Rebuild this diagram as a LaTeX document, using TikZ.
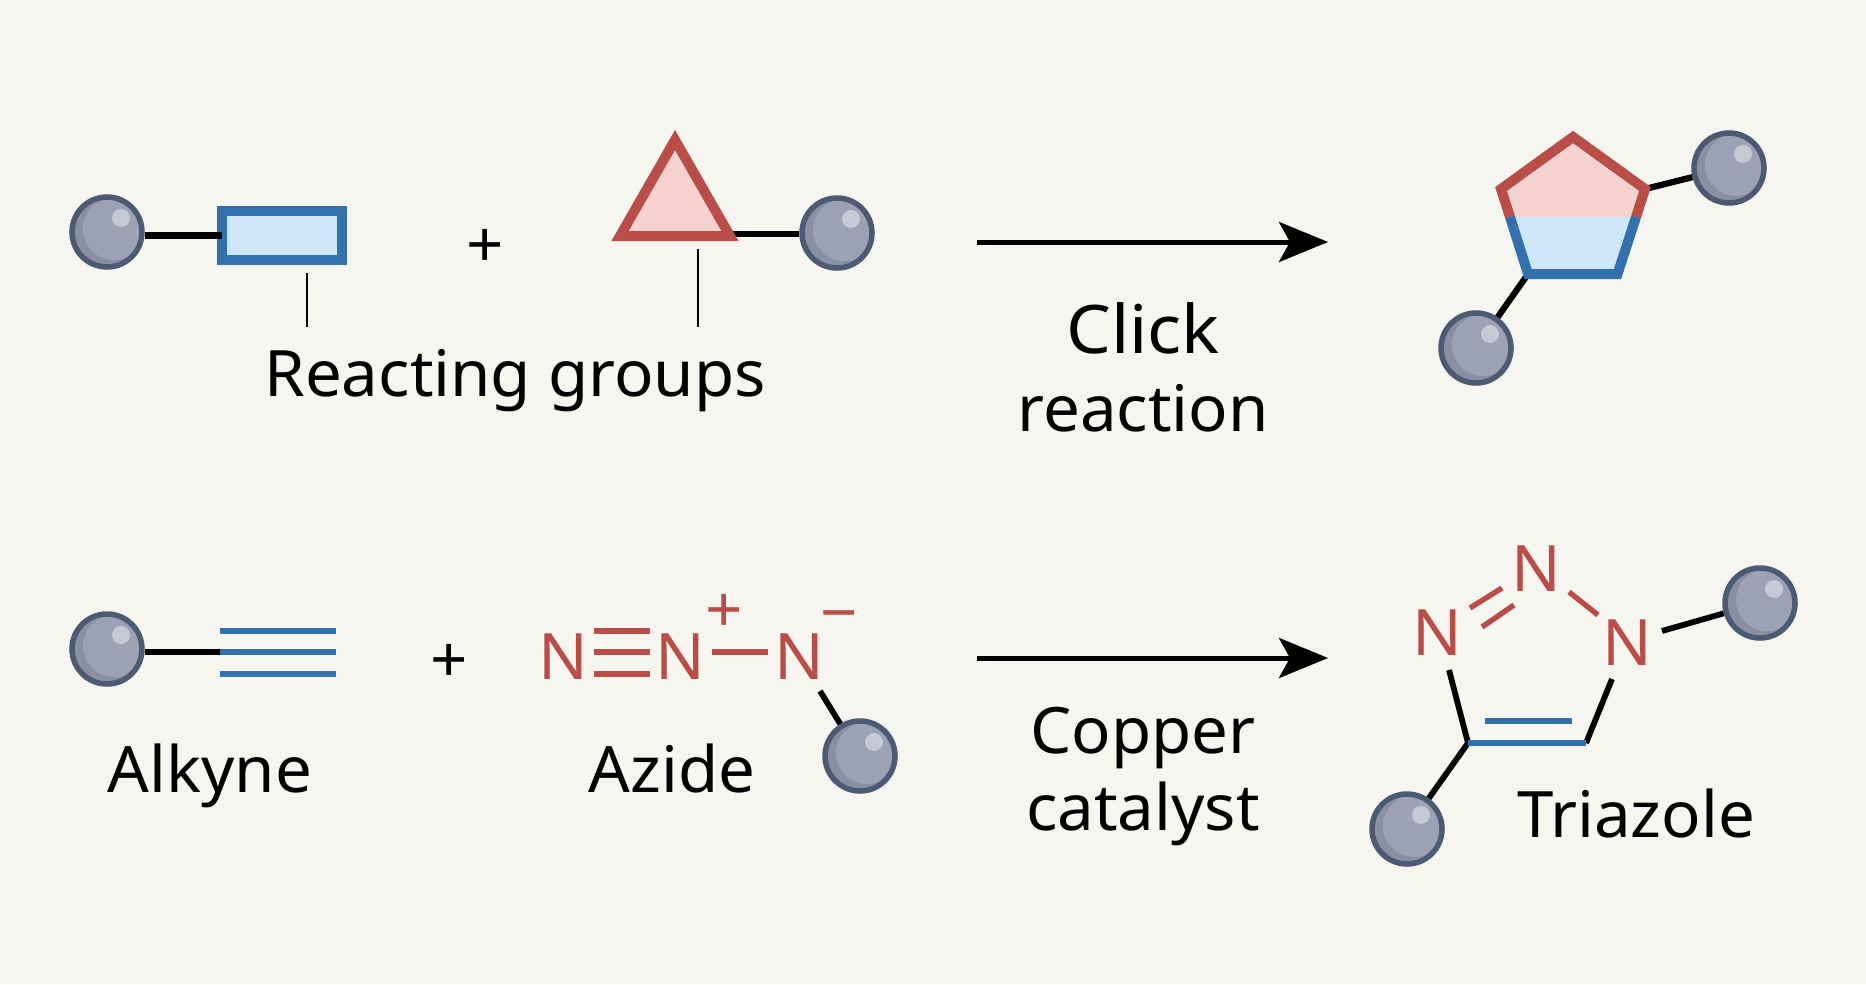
\documentclass[tikz,border=0pt]{standalone}
\usepackage{fontspec}
\setmainfont[FakeStretch=1.022]{Noto Sans}
\usetikzlibrary{arrows.meta,calc}
\definecolor{paper}{HTML}{F7F5F0}
\definecolor{bluedk}{HTML}{3271AD}
\definecolor{bluelt}{HTML}{CFE6F9}
\definecolor{reddk}{HTML}{B94D48}
\definecolor{redlt}{HTML}{F5D2D0}
\definecolor{ballEdge}{HTML}{4C5A73}
\definecolor{ballDark}{HTML}{8A90A3}
\definecolor{ballLight}{HTML}{9CA2B4}
\definecolor{ballShine}{HTML}{C6CAD5}
\tikzset{
  ball/.style={circle,draw=ballEdge,line width=2.75pt,minimum size=35pt,inner sep=0pt,fill=ballDark,
    path picture={
      \fill[ballLight] ($(path picture bounding box.center)+(7,-3)$) circle (31);
      \fill[ballShine] ($(path picture bounding box.center)+(14,-14)$) circle (9);
    }},
  bond/.style={draw=black,line width=2.9pt},
  bondthick/.style={draw=black,line width=3.1pt},
  thinline/.style={draw=black,line width=0.7pt},
  blueline/.style={draw=bluedk,line width=3.1pt},
  redline/.style={draw=reddk,line width=2.7pt},
  redbar/.style={draw=reddk,line width=3.1pt},
  label/.style={anchor=base,inner sep=0pt,font=\fontsize{32}{32}\selectfont,text=black},
  atom/.style={anchor=base,inner sep=0pt,font=\fontsize{32}{32}\selectfont,text=reddk},
  chargetext/.style={anchor=center,inner sep=0pt,font=\fontsize{32}{32}\selectfont,text=reddk},
  plustext/.style={anchor=center,inner sep=0pt,font=\fontsize{32}{32}\selectfont,text=black},
  rarrow/.style={draw=black,line width=2.5pt,-{Stealth[length=24.5pt,width=20pt,inset=5.5pt]}},
  grpline/.style={line width=5pt,line join=miter,miter limit=10},
}
\begin{document}
\begin{tikzpicture}[x=0.5pt,y=-0.5pt]
\fill[paper] (0,0) rectangle (1866,984);
\useasboundingbox (0,0) rectangle (1866,984);

% top row, left reagent
\node[ball] (b1) at (107,232) {};
\node[draw=bluedk,fill=bluelt,line width=5pt,minimum width=60pt,minimum height=24.5pt,inner sep=0pt,outer sep=0pt] (rbox) at (282,235.5) {};
\draw[bondthick] ($(b1.east)+(0,3.5)$) -- (rbox.west);

% top row, right reagent
\node[ball] (b2) at (837,233) {};
\coordinate (t1) at (675,140);
\coordinate (t2) at (620,236);
\coordinate (t3) at (730,236);
\coordinate (t3b) at (730,234);
\draw[bondthick] (t3b) -- ($(b2.west)+(0,1)$);
\draw[draw=reddk,fill=redlt,grpline] (t1) -- (t2) -- (t3) -- cycle;

\node[plustext] (plus1) at (485.5,248.5) {+};

% reacting groups label
\node[label] (rg) at (515,396) {Reacting groups};
\coordinate (l1a) at (307,273); \coordinate (l1b) at (307,327);
\coordinate (l2a) at (698,249); \coordinate (l2b) at (698,327);
\draw[thinline] (l1a) -- (l1b);
\draw[thinline] (l2a) -- (l2b);

% top arrow
\coordinate (a1) at (977,242); \coordinate (a2) at (1328,242);
\draw[rarrow] (a1) -- (a2);
\node[label,font=\fontsize{33.5}{33.5}\selectfont\addfontfeature{FakeStretch=1.06}] (click) at (1143,353) {Click};
\node[label] (react) at (1143,431) {reaction};

% product pentagon
\node[ball] (b3) at (1729,168) {};
\node[ball] (b4) at (1476,348) {};
\coordinate (p1) at (1573,137);
\coordinate (p2) at (1645,189);
\coordinate (p3) at (1617.5,274);
\coordinate (p4) at (1528,274);
\coordinate (p5) at (1501,189);
\coordinate (s1) at (1510,217);
\coordinate (s2) at (1636,217);
\draw[bondthick] (p2) -- (b3);
\draw[bondthick] (p4) -- (b4);
\fill[redlt] (s1) -- (p5) -- (p1) -- (p2) -- (s2) -- cycle;
\fill[bluelt] (s1) -- (p4) -- (p3) -- (s2) -- cycle;
\draw[reddk,grpline] (s1) -- (p5) -- (p1) -- (p2) -- (s2);
\draw[bluedk,grpline] (s1) -- (p4) -- (p3) -- (s2);

% bottom row, alkyne
\node[ball] (b5) at (107,649) {};
\coordinate (y1) at (220,652); \coordinate (y2) at (336,652);
\coordinate (y3) at (220,631); \coordinate (y4) at (336,631);
\coordinate (y5) at (220,674); \coordinate (y6) at (336,674);
\draw[bondthick] ($(b5.east)+(0,3)$) -- (y1);
\draw[blueline] (y1) -- (y2);
\draw[blueline] (y3) -- (y4);
\draw[blueline] (y5) -- (y6);
\node[plustext] (plus2) at (449.5,663) {+};
\node[label] (alk) at (210,792) {Alkyne};

% azide
\node[atom] (n1) at (563.5,679) {N};
\node[atom] (n2) at (680.5,679) {N};
\node[atom] (n3) at (799,679) {N};
\coordinate (z1) at (594,631); \coordinate (z2) at (650,631);
\coordinate (z3) at (594,652); \coordinate (z4) at (650,652);
\coordinate (z5) at (594,674); \coordinate (z6) at (650,674);
\coordinate (z7) at (712,652); \coordinate (z8) at (768,652);
\draw[redbar] (z1) -- (z2);
\draw[redbar] (z3) -- (z4);
\draw[redbar] (z5) -- (z6);
\draw[redbar] (z7) -- (z8);
\node[chargetext] (cp) at (724.5,613) {+};
\node[chargetext] (cm) at (839,623) {−};
\node[ball] (b6) at (860,756) {};
\coordinate (z9) at (820,691);
\draw[bond] (z9) -- (b6);
\node[label] (azi) at (672,792) {Azide};

% bottom arrow
\coordinate (a3) at (977,658); \coordinate (a4) at (1328,658);
\draw[rarrow] (a3) -- (a4);
\node[label] (copper) at (1143,753) {Copper};
\node[label] (cata) at (1143,830) {catalyst};

% triazole
\node[atom] (m1) at (1437.5,655) {N};
\node[atom] (m2) at (1536.5,591) {N};
\node[atom] (m3) at (1627.5,665) {N};
\node[ball] (b7) at (1760,603) {};
\node[ball] (b8) at (1407,829) {};
\coordinate (d1) at (1470,608); \coordinate (d2) at (1502,588);
\coordinate (d3) at (1482,627); \coordinate (d4) at (1514,605);
\coordinate (d5) at (1569,592); \coordinate (d6) at (1598,615);
\draw[redline] (d1) -- (d2);
\draw[redline] (d3) -- (d4);
\draw[redline] (d5) -- (d6);
\coordinate (e1) at (1662,631);
\draw[bond] (e1) -- (b7);
\coordinate (e2) at (1449,670); \coordinate (e3) at (1468,743);
\coordinate (e4) at (1612,679); \coordinate (e5) at (1586,743);
\coordinate (e6) at (1485,721); \coordinate (e7) at (1572,721);
\draw[bond] (e2) -- (e3);
\draw[bond] (e4) -- (e5);
\draw[bond] (e3) -- (b8);
\draw[blueline] (e3) -- (e5);
\draw[blueline] (e6) -- (e7);
\node[label] (tri) at (1636,837) {Triazole};
\end{tikzpicture}
\end{document}
